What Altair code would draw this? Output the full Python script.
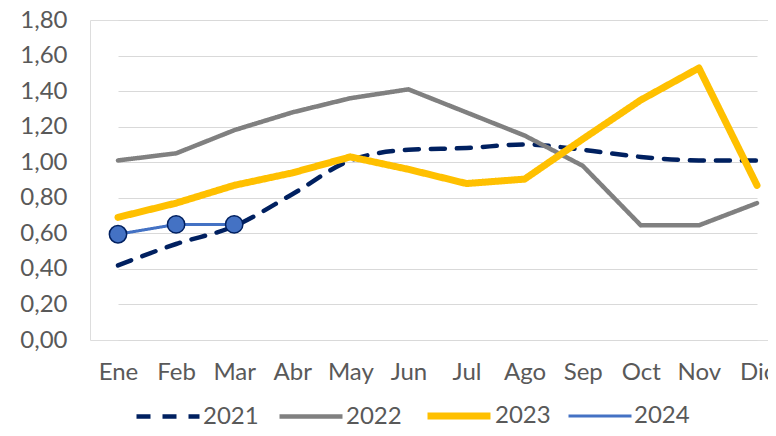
import altair as alt
import pandas as pd

months = ["Ene", "Feb", "Mar", "Abr", "May", "Jun", "Jul", "Ago", "Sep", "Oct", "Nov", "Dic"]
y2021 = [0.42, 0.54, 0.64, 0.82, 1.01, 1.07, 1.08, 1.10, 1.07, 1.03, 1.01, 1.01]
y2022 = [1.01, 1.05, 1.18, 1.28, 1.36, 1.41, 1.28, 1.15, 0.98, 0.645, 0.645, 0.77]
y2023 = [0.69, 0.77, 0.87, 0.94, 1.03, 0.96, 0.88, 0.905, 1.13, 1.35, 1.53, 0.87]
y2024 = [0.595, 0.65, 0.65]

years = ["2021", "2022", "2023", "2024"]
colors = ["#002060", "#808080", "#FFC000", "#4472C4"]
dashes = [[14, 12], [1, 0], [1, 0], [1, 0]]
widths = [4.5, 4.5, 7, 3]

rows = []
for yr, vals in zip(years, [y2021, y2022, y2023, y2024]):
    for m, v in zip(months, vals):
        rows.append({"month": m, "year": yr, "value": v})
df = pd.DataFrame(rows)

FONT = "Lato"
TXT = "#595959"

x = alt.X("month:N", sort=months, scale=alt.Scale(domain=months, range=[28, 667], padding=0),
          axis=alt.Axis(title=None, labelAngle=0, domain=False, ticks=False,
                        labelPadding=20, labelFontSize=24, labelColor=TXT, labelFont=FONT,
                        grid=False))
y = alt.Y("value:Q", scale=alt.Scale(domain=[0, 1.8], nice=False),
          axis=alt.Axis(title=None, values=[0, 0.2, 0.4, 0.6, 0.8, 1.0, 1.2, 1.4, 1.6, 1.8],
                        labelExpr="replace(format(datum.value, '.2f'), '.', ',')",
                        domain=False, ticks=False, labelPadding=23, labelFontSize=24,
                        labelColor=TXT, labelFont=FONT, grid=True, gridColor="#d9d9d9",
                        gridWidth=1.2))

legend = alt.Legend(title=None, orient="none", direction="horizontal", legendX=44, legendY=361,
                    symbolType="stroke", symbolSize=3969, labelFontSize=24, labelColor=TXT,
                    labelFont=FONT, columnPadding=11, labelOffset=1)

color = alt.Color("year:O", scale=alt.Scale(domain=years, range=colors), legend=legend)
dash = alt.StrokeDash("year:O", scale=alt.Scale(domain=years, range=dashes), legend=legend)
sw = alt.StrokeWidth("year:O", scale=alt.Scale(type="ordinal", domain=years, range=widths), legend=legend)

base = alt.Chart(df)

l2021 = base.transform_filter(alt.datum.year == "2021").mark_line(
    interpolate="monotone", strokeCap="round").encode(x=x, y=y, color=color, strokeDash=dash, strokeWidth=sw)
lother = base.transform_filter(alt.datum.year != "2021").mark_line(
    strokeCap="round", strokeJoin="round").encode(x=x, y=y, color=color, strokeDash=dash, strokeWidth=sw)
pts = base.transform_filter(alt.datum.year == "2024").mark_point(
    filled=True, fill="#4472C4", stroke="#002060", strokeWidth=1.5, size=300, opacity=1).encode(x=x, y=y)

chart = alt.layer(l2021, lother, pts).properties(
    width=678, height=320,
    autosize=alt.AutoSizeParams(type="none"),
    padding={"left": 82, "top": 12, "right": 0, "bottom": 88},
).configure_view(stroke=None).configure(background="white")

chart.save("out.html", embed_options={"renderer": "svg", "actions": False})
